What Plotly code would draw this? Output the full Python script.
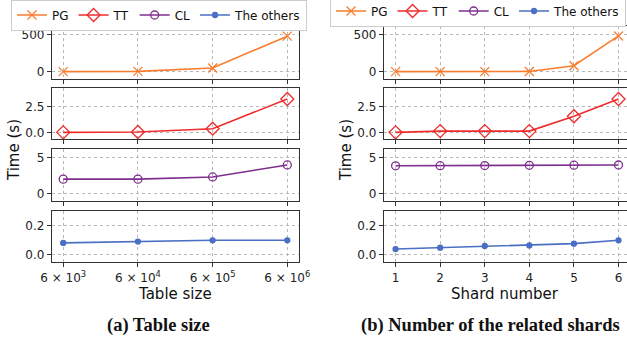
import plotly.graph_objects as go

# ---------------- data ----------------
table_sizes = [6e3, 6e4, 6e5, 6e6]
table_tick_labels = ["6 × 10<sup>3</sup>", "6 × 10<sup>4</sup>", "6 × 10<sup>5</sup>", "6 × 10<sup>6</sup>"]
shard_numbers = [1, 2, 3, 4, 5, 6]
shard_tick_labels = ["1", "2", "3", "4", "5", "6"]

pg_table = [0, 4, 50, 482]
tt_table = [0.0, 0.03, 0.35, 3.2]
cl_table = [2.0, 2.0, 2.3, 3.95]
others_table = [0.081, 0.09, 0.099, 0.099]

pg_shard = [0, 0, 0, 3, 81, 485]
tt_shard = [0.0, 0.12, 0.12, 0.12, 1.55, 3.2]
cl_shard = [3.83, 3.85, 3.87, 3.9, 3.92, 3.94]
others_shard = [0.039, 0.048, 0.06, 0.064, 0.076, 0.099]

series_names = ["PG", "TT", "CL", "The others"]
row_ytick_vals = [[0, 500], [0, 2.5], [0, 5], [0, 0.2]]
row_ytick_text = [["0", "500"], ["0.0", "2.5"], ["0", "5"], ["0.0", "0.2"]]
row_yranges = [[-100, 620], [-0.64, 4.26], [-1.0, 6.14], [-0.05, 0.30]]

# ---------------- style ----------------
W, H = 627, 339
colors = ["#fa7d2d", "#ef2b2b", "#7e2f8e", "#4a6fc4"]
symbols = ["x-thin-open", "diamond-open", "circle-open", "circle"]
msizes = [9, 10, 8, 5]
font_family = "DejaVu Sans, sans-serif"

col_px = [(52, 298.5), (384, 627)]
row_px = [(26, 79), (88, 139), (149, 201), (211, 262)]


def px_x(a, b):
    return [a / W, min(b / W, 1.0)]


def px_y(top, bottom):
    return [1 - bottom / H, 1 - top / H]


fig = go.Figure()

xdata = [table_sizes, shard_numbers]
ydata = [[pg_table, tt_table, cl_table, others_table],
         [pg_shard, tt_shard, cl_shard, others_shard]]

layout = {}
idx = 0
for c in range(2):
    for r in range(4):
        idx += 1
        sfx = "" if idx == 1 else str(idx)
        xa = "x" + sfx
        ya = "y" + sfx
        fig.add_trace(go.Scatter(
            x=xdata[c], y=ydata[c][r], xaxis=xa, yaxis=ya,
            mode="lines+markers", name=series_names[r],
            line=dict(color=colors[r], width=1.6),
            marker=dict(symbol=symbols[r], size=msizes[r], color=colors[r],
                        line=dict(color=colors[r], width=1.3)),
            legend="legend" if c == 0 else "legend2",
            showlegend=True,
        ))
        common = dict(showline=True, mirror=True, linecolor="#333333", linewidth=1.3,
                      ticks="outside", ticklen=4, tickwidth=1.1, tickcolor="#333333",
                      showgrid=True, gridcolor="#b8b8b8", griddash="dot", gridwidth=1,
                      zeroline=False, automargin=False,
                      tickfont=dict(family=font_family, size=12, color="#222222"))
        if c == 0:
            xax = dict(type="log", range=[3.628, 6.928], tickvals=table_sizes,
                       ticktext=table_tick_labels, **common)
        else:
            xax = dict(range=[0.74, 6.19], tickvals=shard_numbers,
                       ticktext=shard_tick_labels, **common)
        xax["domain"] = px_x(*col_px[c])
        xax["anchor"] = ya
        xax["showticklabels"] = (r == 3)
        yax = dict(range=row_yranges[r], tickvals=row_ytick_vals[r],
                   ticktext=row_ytick_text[r], **common)
        yax["domain"] = px_y(*row_px[r])
        yax["anchor"] = xa
        layout["xaxis" + sfx] = xax
        layout["yaxis" + sfx] = yax

legend_common = dict(orientation="h", bgcolor="white", bordercolor="#cccccc", borderwidth=1,
                     font=dict(family=font_family, size=12, color="#111111"),
                     xref="container", yref="container",
                     yanchor="middle", itemwidth=30, tracegroupgap=0)
layout["legend"] = dict(x=159 / W, xanchor="center", y=1 - 15 / H, **legend_common)
layout["legend2"] = dict(x=626 / W, xanchor="right", y=1 - 11 / H, **legend_common)

annotations = []
text_font = dict(family=font_family, size=15, color="#111111")
cap_font = dict(family="Liberation Serif, serif", size=18.5, color="#111111")
# y-axis titles
for xc in [14, 346]:
    annotations.append(dict(text="Time (s)", x=xc / W, y=1 - 150 / H, textangle=-90, font=text_font))
annotations.append(dict(text="Table size", x=175 / W, y=1 - 294 / H, font=text_font))
annotations.append(dict(text="Shard number", x=505 / W, y=1 - 294 / H, font=text_font))
annotations.append(dict(text="<b>(a) Table size</b>", x=158 / W, y=1 - 325 / H, font=cap_font))
annotations.append(dict(text="<b>(b) Number of the related shards</b>", x=490 / W, y=1 - 325 / H, font=cap_font))
for a in annotations:
    a.update(xref="paper", yref="paper", showarrow=False, xanchor="center", yanchor="middle")

fig.update_layout(width=W, height=H, margin=dict(l=0, r=0, t=0, b=0, autoexpand=False),
                  paper_bgcolor="white", plot_bgcolor="white",
                  annotations=annotations, **layout)

fig.write_html("out.html", config={"displayModeBar": False},
               post_script="document.body.style.margin='0';")
